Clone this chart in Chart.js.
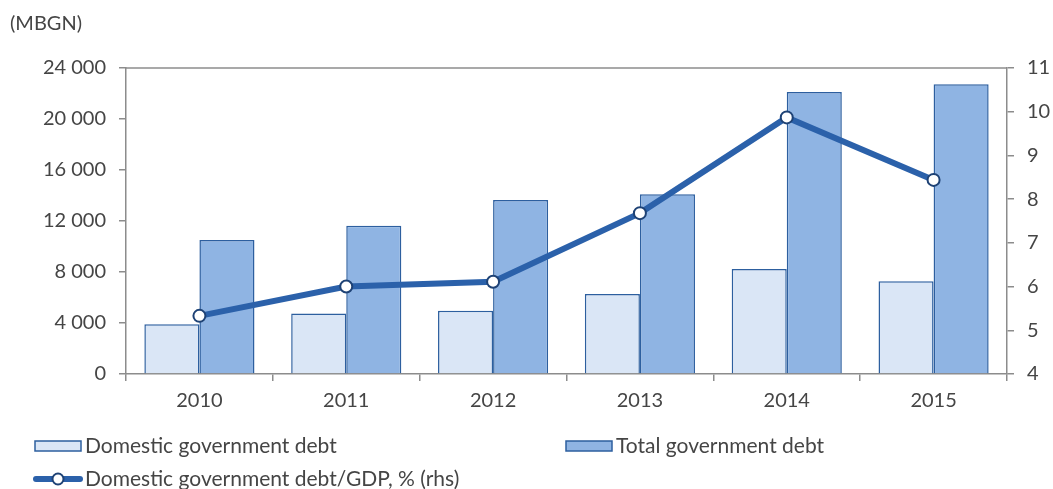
<!DOCTYPE html>
<html>
<head>
<meta charset="utf-8">
<script src="https://cdn.jsdelivr.net/npm/chart.js@4"></script>
<style>
  html,body{margin:0;padding:0;background:#fff;}
  #wrap{width:1053px;height:489px;position:relative;}
</style>
</head>
<body>
<div id="wrap"><canvas id="debt"></canvas></div>
<script>
const years = ['2010','2011','2012','2013','2014','2015'];
const domesticDebt = [3900, 4750, 4970, 6280, 8240, 7270];
const totalDebt = [10510, 11630, 13650, 14090, 22120, 22720];
const debtToGdp = [5.33, 6.0, 6.11, 7.68, 9.87, 8.44];
const unitLabel = '(MBGN)';

const FONT = 'Lato, "Open Sans", sans-serif';
const TXT = '#454545';
const AXIS = '#8c8c8c';
const EDGE = '#2d5f9f';

// thousands with a space: 24 000
const fmt = v => String(v).replace(/\B(?=(\d{3})+(?!\d))/g, ' ');

// unit caption, top border of the plot and the two-column legend
const extras = {
  id: 'extras',
  afterDraw(chart) {
    const {ctx, chartArea: a} = chart;
    ctx.save();
    ctx.strokeStyle = AXIS; ctx.lineWidth = 1.5;
    ctx.beginPath(); ctx.moveTo(a.left, a.top); ctx.lineTo(a.right, a.top); ctx.stroke();

    ctx.fillStyle = TXT; ctx.font = '20px ' + FONT; ctx.textBaseline = 'middle';
    ctx.fillText(unitLabel, 10, 24);

    const ds = chart.data.datasets;
    ctx.font = '21px ' + FONT;
    const box = (x, y, d) => {
      ctx.fillStyle = d.backgroundColor; ctx.strokeStyle = d.borderColor; ctx.lineWidth = 1.5;
      ctx.fillRect(x, y - 5, 46, 10); ctx.strokeRect(x, y - 5, 46, 10);
      ctx.fillStyle = TXT; ctx.fillText(d.label, x + 50, y);
    };
    box(35, 446, ds[1]);
    box(566, 446, ds[2]);

    const d = ds[0], y = 479;
    ctx.strokeStyle = d.borderColor; ctx.lineWidth = 6; ctx.lineCap = 'round';
    ctx.beginPath(); ctx.moveTo(36, y); ctx.lineTo(80, y); ctx.stroke();
    ctx.beginPath(); ctx.arc(58, y, 5.5, 0, Math.PI * 2);
    ctx.fillStyle = '#fff'; ctx.fill();
    ctx.lineWidth = 2; ctx.strokeStyle = d.pointBorderColor; ctx.stroke();
    ctx.fillStyle = TXT; ctx.fillText(d.label, 85, y);
    ctx.restore();
  }
};

new Chart(document.getElementById('debt'), {
  type: 'bar',
  data: {
    labels: years,
    datasets: [
      {type: 'line', label: 'Domestic government debt/GDP, % (rhs)', data: debtToGdp, yAxisID: 'y1', order: 0,
        borderColor: '#2b61aa', borderWidth: 6, pointRadius: 6, pointHoverRadius: 6,
        pointBackgroundColor: '#fff', pointBorderColor: '#1e4275', pointBorderWidth: 2, tension: 0},
      {label: 'Domestic government debt', data: domesticDebt, yAxisID: 'y', order: 1,
        backgroundColor: '#dae6f6', borderColor: EDGE, borderWidth: 1.5},
      {label: 'Total government debt', data: totalDebt, yAxisID: 'y', order: 1,
        backgroundColor: '#8fb4e3', borderColor: EDGE, borderWidth: 1.5}
    ]
  },
  options: {
    responsive: true, maintainAspectRatio: false, animation: false,
    categoryPercentage: 0.75, barPercentage: 1.0,
    layout: {padding: {top: 68, bottom: 75, left: 0, right: 0}},
    plugins: {legend: {display: false}, tooltip: {enabled: false}},
    scales: {
      x: {
        grid: {offset: true, drawOnChartArea: false, color: AXIS, lineWidth: 1.5, tickLength: 7},
        border: {color: AXIS, width: 1.5},
        ticks: {color: TXT, font: {family: FONT, size: 20}, padding: 8},
        afterFit: s => { s.height = 40; }
      },
      y: {
        position: 'left', min: 0, max: 24000,
        grid: {drawOnChartArea: false, color: AXIS, lineWidth: 1.5, tickLength: 7},
        border: {color: AXIS, width: 1.5},
        ticks: {stepSize: 4000, color: TXT, font: {family: FONT, size: 20}, padding: 13, callback: v => fmt(v)},
        afterFit: s => { s.width = 126; }
      },
      y1: {
        position: 'right', min: 4, max: 11,
        grid: {drawOnChartArea: false, color: AXIS, lineWidth: 1.5, tickLength: 7},
        border: {color: AXIS, width: 1.5},
        ticks: {stepSize: 1, color: TXT, font: {family: FONT, size: 20}, padding: 13},
        afterFit: s => { s.width = 46; }
      }
    }
  },
  plugins: [extras]
});
</script>
</body>
</html>
